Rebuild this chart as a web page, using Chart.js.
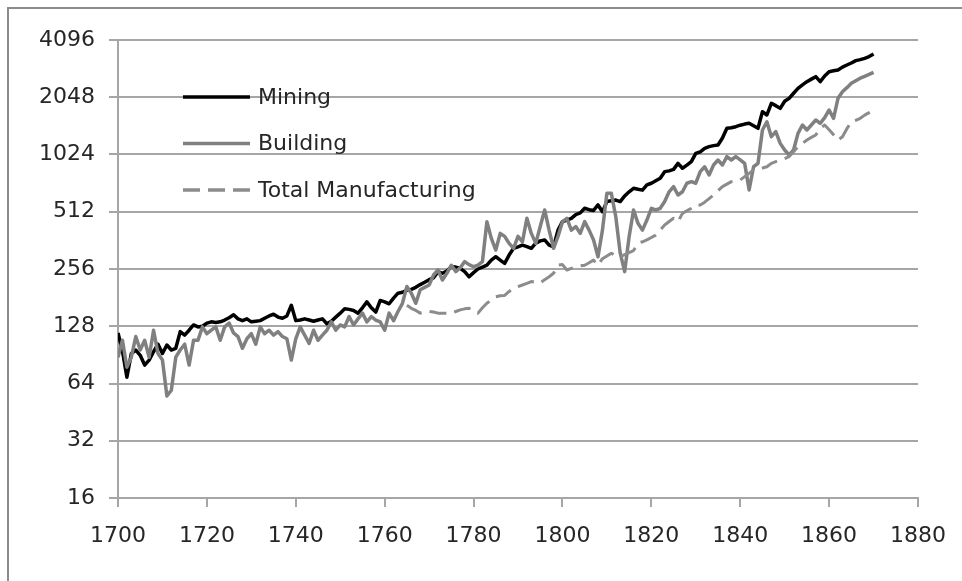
<!DOCTYPE html>
<html>
<head>
<meta charset="utf-8">
<script src="https://cdn.jsdelivr.net/npm/chart.js@4/dist/chart.umd.min.js"></script>
<style>
  html, body { margin: 0; padding: 0; background: #fff; overflow: hidden; }
  #frame {
    position: absolute; left: 7px; top: 7px; width: 1000px; height: 620px;
    border-top: 2px solid #8c8c8c; border-left: 2px solid #8c8c8c;
  }
  #chart { position: absolute; left: 0; top: 0; }
</style>
</head>
<body>
<div id="frame"></div>
<canvas id="chart" width="962" height="581"></canvas>
<script>
const seriesNames = ["Mining", "Building", "Total Manufacturing"];
const xTicks = [1700, 1720, 1740, 1760, 1780, 1800, 1820, 1840, 1860, 1880];
const yTicks = [16, 32, 64, 128, 256, 512, 1024, 2048, 4096];

// annual years 1700..1870 (mining + building), manufacturing starts 1765
const years = Array.from({ length: 171 }, (_, i) => 1700 + i);
const manufacturingYears = years.slice(65);

const mining = [
  118, 95, 69, 92, 96, 90, 80, 85, 94, 103,
  92, 102, 96, 98, 120, 115, 122, 130, 127, 128,
  133, 135, 134, 135, 138, 142, 147, 140, 137, 140,
  135, 136, 137, 141, 145, 148, 143, 141, 145, 165,
  137, 138, 140, 138, 136, 138, 140, 132, 136, 143,
  150, 158, 157, 155, 150, 160, 172, 160, 152, 175,
  172, 168, 180, 191, 193, 198, 200, 205, 212, 218,
  225, 230, 248, 243, 250, 263, 262, 258, 248, 233,
  245, 256, 262, 268, 285, 297, 285, 274, 303, 329,
  335, 342, 336, 329, 350, 360, 364, 342, 335, 410,
  454, 463, 473, 495, 505, 534, 525, 520, 556, 512,
  579, 585, 590, 579, 620, 652, 680, 672, 665, 708,
  723, 745, 768, 832, 840, 855, 920, 867, 900, 939,
  1038, 1058, 1104, 1126, 1140, 1149, 1250, 1406, 1415, 1434,
  1460, 1480, 1494, 1450, 1406, 1720, 1652, 1903, 1850, 1791,
  1950, 2021, 2150, 2282, 2380, 2473, 2550, 2628, 2473, 2650,
  2792, 2820, 2849, 2950, 3025, 3100, 3190, 3230, 3280, 3350,
  3455
];

const building = [
  88, 108, 78, 88, 113, 96, 108, 88, 122, 92,
  85, 55, 59, 88, 96, 103, 80, 108, 108, 127,
  117, 122, 127, 108, 127, 133, 118, 113, 98, 110,
  117, 103, 127, 117, 122, 115, 120, 113, 110, 85,
  110, 127, 115, 104, 122, 108, 115, 122, 135, 122,
  130, 127, 144, 130, 140, 150, 135, 144, 138, 135,
  122, 150, 137, 153, 169, 207, 191, 169, 199, 205,
  211, 238, 253, 224, 243, 268, 248, 260, 280, 270,
  263, 268, 280, 454, 371, 322, 394, 380, 349, 329,
  380, 356, 473, 394, 349, 428, 523, 410, 329, 380,
  454, 473, 410, 428, 394, 454, 410, 364, 297, 410,
  640, 640, 482, 310, 248, 378, 523, 445, 410, 463,
  534, 523, 534, 579, 652, 694, 627, 652, 723, 737,
  723, 832, 883, 799, 902, 958, 902, 998, 958, 998,
  960, 920, 666, 883, 920, 1378, 1523, 1270, 1350, 1172,
  1081, 1018, 1081, 1323, 1463, 1378, 1463, 1555, 1494, 1600,
  1755, 1587, 2021, 2190, 2300, 2424, 2500, 2580, 2640, 2700,
  2770
];

const manufacturing = [
  165, 159, 155, 150, 152,
  153, 152, 150, 150, 150, 150, 153, 156, 158, 159,
  155, 150, 160, 169, 176, 183, 185, 186, 195, 203,
  207, 211, 215, 220, 218, 216, 225, 233, 243, 268,
  270, 253, 258, 263, 266, 268, 276, 285, 268, 290,
  300, 310, 300, 297, 305, 312, 320, 349, 356, 364,
  375, 386, 410, 436, 455, 473, 454, 502, 518, 534,
  556, 556, 575, 600, 627, 660, 694, 715, 737, 745,
  752, 783, 815, 849, 860, 870, 883, 920, 940, 958,
  975, 998, 1060, 1126, 1170, 1220, 1260, 1297, 1406, 1463,
  1380, 1300, 1220, 1270, 1400, 1523, 1550, 1587, 1650, 1700,
  1755
];

const toPoints = (xs, ys) => xs.map((x, i) => ({ x: x, y: ys[i] }));

const FONT = "'DejaVu Sans', sans-serif";
const TEXT_COLOR = "#262626";
const GRID_COLOR = "#a6a6a6";

const legendStyles = [
  { color: "#000000", dash: [] },
  { color: "#808080", dash: [] },
  { color: "#8c8c8c", dash: [17, 8] }
];

// legend sits inside the plot, top left
const insideLegend = {
  id: "insideLegend",
  afterDraw(chart) {
    const ctx = chart.ctx;
    const area = chart.chartArea;
    ctx.save();
    ctx.font = "22px " + FONT;
    ctx.textBaseline = "middle";
    ctx.fillStyle = TEXT_COLOR;
    seriesNames.forEach((name, i) => {
      const y = area.top + 57 + i * 46.5;
      const style = legendStyles[i];
      ctx.beginPath();
      ctx.setLineDash(style.dash);
      ctx.strokeStyle = style.color;
      ctx.lineWidth = 3.5;
      ctx.moveTo(area.left + 65, y);
      ctx.lineTo(area.left + 132, y);
      ctx.stroke();
      ctx.setLineDash([]);
      ctx.fillText(name, area.left + 140, y + 1);
    });
    ctx.restore();
  }
};

new Chart(document.getElementById("chart"), {
  type: "line",
  data: {
    datasets: [
      {
        label: seriesNames[0],
        data: toPoints(years, mining),
        borderColor: "#000000",
        borderWidth: 3.5,
        order: 3
      },
      {
        label: seriesNames[1],
        data: toPoints(years, building),
        borderColor: "#808080",
        borderWidth: 3.5,
        order: 2
      },
      {
        label: seriesNames[2],
        data: toPoints(manufacturingYears, manufacturing),
        borderColor: "#8c8c8c",
        borderWidth: 3,
        borderDash: [17, 8],
        order: 1
      }
    ]
  },
  options: {
    responsive: false,
    animation: false,
    devicePixelRatio: 1,
    layout: { padding: { top: 40, right: 33, left: 0, bottom: 0 } },
    elements: {
      point: { radius: 0 },
      line: { tension: 0, borderJoinStyle: "round", borderCapStyle: "butt" }
    },
    plugins: {
      legend: { display: false },
      tooltip: { enabled: false }
    },
    scales: {
      x: {
        type: "linear",
        min: 1700,
        max: 1880,
        afterBuildTicks(scale) {
          scale.ticks = xTicks.map((v) => ({ value: v }));
        },
        afterFit(scale) {
          scale.height = 83;
        },
        border: { color: GRID_COLOR, width: 2 },
        grid: { drawOnChartArea: false, drawTicks: true, tickLength: 9, color: GRID_COLOR, lineWidth: 2 },
        ticks: {
          padding: 16,
          maxRotation: 0,
          color: TEXT_COLOR,
          font: { family: FONT, size: 22 },
          callback: (v) => String(v)
        }
      },
      y: {
        type: "logarithmic",
        min: 16,
        max: 4096,
        afterBuildTicks(scale) {
          scale.ticks = yTicks.map((v) => ({ value: v }));
        },
        afterFit(scale) {
          scale.width = 118;
        },
        border: { color: GRID_COLOR, width: 2 },
        grid: { color: GRID_COLOR, lineWidth: 2, tickLength: 9 },
        ticks: {
          padding: 14,
          color: TEXT_COLOR,
          font: { family: FONT, size: 22 },
          callback: (v) => String(v)
        }
      }
    }
  },
  plugins: [insideLegend]
});
</script>
</body>
</html>
